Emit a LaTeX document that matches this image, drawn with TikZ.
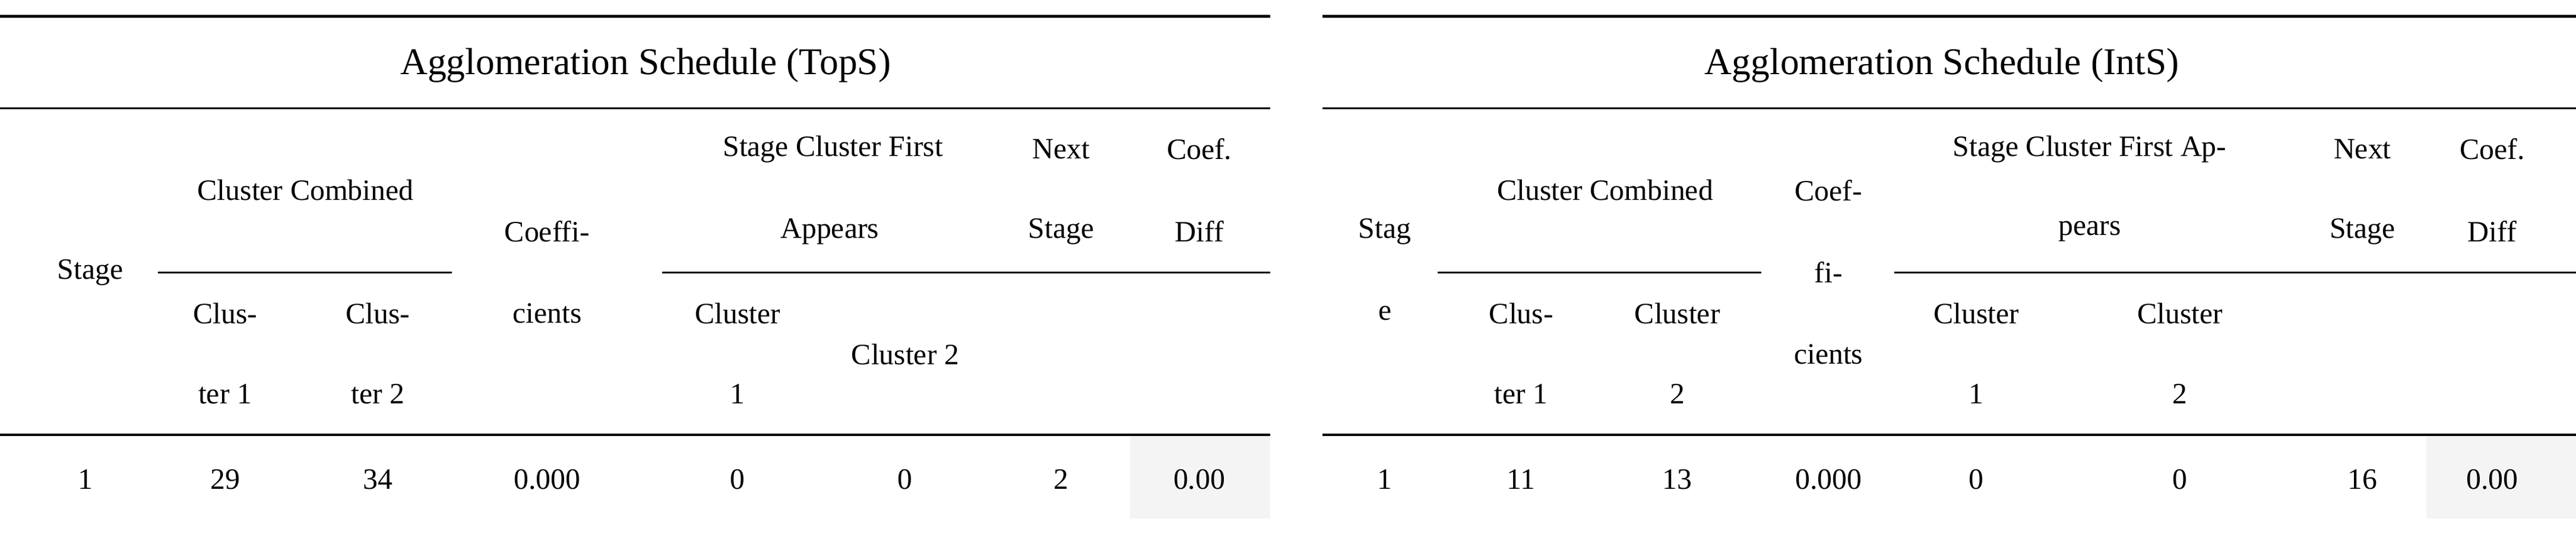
\documentclass[tikz,border=0pt]{standalone}
\usepackage{fontspec}
\setmainfont{Liberation Serif}
\begin{document}
\begin{tikzpicture}[x=1pt,y=-1pt,
 rule/.style={line width=1.6pt},
 thin/.style={line width=1.1pt},
 tx/.style={inner sep=0pt,font=\fontsize{18}{21}\selectfont},
 ttl/.style={inner sep=0pt,font=\fontsize{23}{27}\selectfont}]
\useasboundingbox (0,0) rectangle (1568,329.6);
% gray cells
\fill[gray!9] (688,266) rectangle (773,316);
\fill[gray!9] (1477,266) rectangle (1568,316);
% left table rules
\draw[rule] (0,10) -- (773,10);
\draw[thin] (0,66) -- (773,66);
\draw[thin] (96,166) -- (275,166);
\draw[thin] (403,166) -- (773,166);
\draw[rule] (0,265) -- (773,265);
% right table rules
\draw[rule] (805,10) -- (1568,10);
\draw[thin] (805,66) -- (1568,66);
\draw[thin] (875,166) -- (1072,166);
\draw[thin] (1153,166) -- (1568,166);
\draw[rule] (805,265) -- (1568,265);
% left texts
\node[ttl] (lt) at (393,40) {Agglomeration Schedule (TopS)};
\node[tx] (l1) at (55,166) {Stage};
\node[tx] (l2) at (186,116) {Cluster Combined};
\node[tx] (l3) at (333,141) {Coeffi-};
\node[tx] (l4) at (333,191) {cients};
\node[tx] (l5) at (507,91) {Stage Cluster First};
\node[tx] (l6) at (505,141) {Appears};
\node[tx] (l7) at (646,91) {Next};
\node[tx] (l8) at (646,141) {Stage};
\node[tx] (l9) at (730,91) {Coef.};
\node[tx] (l10) at (730,141) {Diff};
\node[tx] (l11) at (137,191) {Clus-};
\node[tx] (l12) at (137,240) {ter 1};
\node[tx] (l13) at (230,191) {Clus-};
\node[tx] (l14) at (230,240) {ter 2};
\node[tx] (l15) at (449,191) {Cluster};
\node[tx] (l16) at (449,240) {1};
\node[tx] (l17) at (551,216) {Cluster 2};
\node[tx] (ld1) at (52,292) {1};
\node[tx] (ld2) at (137,292) {29};
\node[tx] (ld3) at (230,292) {34};
\node[tx] (ld4) at (333,292) {0.000};
\node[tx] (ld5) at (449,292) {0};
\node[tx] (ld6) at (551,292) {0};
\node[tx] (ld7) at (646,292) {2};
\node[tx] (ld8) at (730,292) {0.00};
% right texts
\node[ttl] (rt) at (1182,40) {Agglomeration Schedule (IntS)};
\node[tx] (r1) at (843,141) {Stag};
\node[tx] (r2) at (843,191) {e};
\node[tx] (r3) at (977,116) {Cluster Combined};
\node[tx] (r4) at (1113,116) {Coef-};
\node[tx] (r5) at (1113,166) {fi-};
\node[tx] (r6) at (1113,216) {cients};
\node[tx] (r7) at (1272,91) {Stage Cluster First Ap-};
\node[tx] (r8) at (1272,141) {pears};
\node[tx] (r9) at (1438,91) {Next};
\node[tx] (r10) at (1438,141) {Stage};
\node[tx] (r11) at (1517,91) {Coef.};
\node[tx] (r12) at (1517,141) {Diff};
\node[tx] (r13) at (926,191) {Clus-};
\node[tx] (r14) at (926,240) {ter 1};
\node[tx] (r15) at (1021,191) {Cluster};
\node[tx] (r16) at (1021,240) {2};
\node[tx] (r17) at (1203,191) {Cluster};
\node[tx] (r18) at (1203,240) {1};
\node[tx] (r19) at (1327,191) {Cluster};
\node[tx] (r20) at (1327,240) {2};
\node[tx] (rd1) at (843,292) {1};
\node[tx] (rd2) at (926,292) {11};
\node[tx] (rd3) at (1021,292) {13};
\node[tx] (rd4) at (1113,292) {0.000};
\node[tx] (rd5) at (1203,292) {0};
\node[tx] (rd6) at (1327,292) {0};
\node[tx] (rd7) at (1438,292) {16};
\node[tx] (rd8) at (1517,292) {0.00};
\end{tikzpicture}
\end{document}
